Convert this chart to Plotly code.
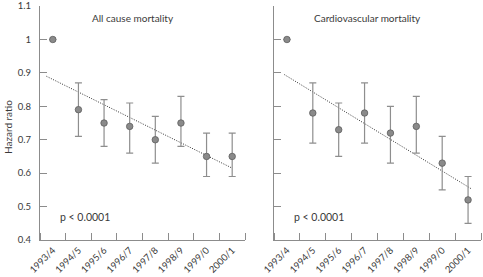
import plotly.graph_objects as go

periods = ["1993/4", "1994/5", "1995/6", "1996/7", "1997/8", "1998/9", "1999/0", "2000/1"]

# All cause mortality
all_hr = [1.00, 0.79, 0.75, 0.74, 0.70, 0.75, 0.65, 0.65]
all_lo = [None, 0.71, 0.68, 0.66, 0.63, 0.68, 0.59, 0.59]
all_hi = [None, 0.87, 0.82, 0.81, 0.77, 0.83, 0.72, 0.72]
all_trend_x = [-0.25, 7.0]
all_trend_y = [0.89, 0.615]

# Cardiovascular mortality
cv_hr = [1.00, 0.78, 0.73, 0.78, 0.72, 0.74, 0.63, 0.52]
cv_lo = [None, 0.69, 0.65, 0.69, 0.63, 0.66, 0.55, 0.45]
cv_hi = [None, 0.87, 0.81, 0.87, 0.80, 0.83, 0.71, 0.59]
cv_trend_x = [-0.1, 7.15]
cv_trend_y = [0.895, 0.552]

y_ticks = [0.4, 0.5, 0.6, 0.7, 0.8, 0.9, 1.0, 1.1]
y_tick_text = ["0.4", "0.5", "0.6", "0.7", "0.8", "0.9", "1", "1.1"]

FONT = "Lato"
TXT = "#3a3a3a"
AX = "#8c8c8c"

xi = list(range(len(periods)))


def errs(hr, lo, hi):
    plus = [0 if h is None else round(h - v, 4) for v, h in zip(hr, hi)]
    minus = [0 if l is None else round(v - l, 4) for v, l in zip(hr, lo)]
    return plus, minus


fig = go.Figure()
for hr, lo, hi, tx, ty, xa, ya in [
    (all_hr, all_lo, all_hi, all_trend_x, all_trend_y, "x", "y"),
    (cv_hr, cv_lo, cv_hi, cv_trend_x, cv_trend_y, "x2", "y2"),
]:
    plus, minus = errs(hr, lo, hi)
    fig.add_trace(go.Scatter(
        x=tx, y=ty, mode="lines", xaxis=xa, yaxis=ya,
        line=dict(color="#333333", width=1, dash="1px,1.5px"), showlegend=False))
    fig.add_trace(go.Scatter(
        x=xi, y=hr, mode="markers", xaxis=xa, yaxis=ya,
        marker=dict(size=6.5, color="#8a8a8a", line=dict(color="#5e5e5e", width=0.8)),
        error_y=dict(type="data", symmetric=False, array=plus, arrayminus=minus,
                     color="#8e8e8e", thickness=1.2, width=3.5),
        showlegend=False))

W, H = 483, 277
xdoms = [[40 / W, 245 / W], [274 / W, 481 / W]]
ydom = [1 - 240 / H, 1 - 6 / H]

common_x = dict(
    range=[-0.5, 7.5], tickmode="array", tickvals=xi, ticktext=periods,
    tickangle=-45, ticks="", showgrid=False, zeroline=False, automargin=False,
    showline=True, linecolor=AX, linewidth=1, ticklabeloverflow="allow",
    tickfont=dict(family=FONT, size=9.5, color=TXT),
    minor=dict(tickmode="linear", tick0=0.5, dtick=1, ticks="inside",
               ticklen=7, tickcolor=AX, tickwidth=1, showgrid=False),
)
common_y = dict(
    range=[0.4, 1.1002], domain=ydom, tickmode="array", tickvals=y_ticks,
    ticks="inside", ticklen=7, tickcolor=AX, tickwidth=1, automargin=False,
    showgrid=False, zeroline=False, showline=True, linecolor=AX, linewidth=1,
    ticklabeloverflow="allow",
    tickfont=dict(family=FONT, size=9.5, color=TXT),
)

fig.update_layout(
    width=W, height=H, margin=dict(l=0, r=0, t=0, b=0, autoexpand=False),
    paper_bgcolor="white", plot_bgcolor="white",
    xaxis=dict(domain=xdoms[0], anchor="y", **common_x),
    xaxis2=dict(domain=xdoms[1], anchor="y2", **common_x),
    yaxis=dict(anchor="x", ticktext=y_tick_text, showticklabels=True,
               ticklabelstandoff=6, **common_y),
    yaxis2=dict(anchor="x2", showticklabels=False, **common_y),
    annotations=[
        dict(text="All cause mortality", x=133 / W, y=1 - 18 / H, xref="paper", yref="paper",
             xanchor="center", yanchor="middle",
             showarrow=False, font=dict(family=FONT, size=10, color=TXT)),
        dict(text="Cardiovascular mortality", x=367 / W, y=1 - 18 / H, xref="paper", yref="paper",
             xanchor="center", yanchor="middle",
             showarrow=False, font=dict(family=FONT, size=10, color=TXT)),
        dict(text="p < 0.0001", x=58 / W, y=1 - 217 / H, xref="paper", yref="paper",
             xanchor="left", yanchor="middle",
             showarrow=False, font=dict(family=FONT, size=10.5, color=TXT)),
        dict(text="p < 0.0001", x=292 / W, y=1 - 217 / H, xref="paper", yref="paper",
             xanchor="left", yanchor="middle",
             showarrow=False, font=dict(family=FONT, size=10.5, color=TXT)),
        dict(text="Hazard ratio", x=8 / W, y=1 - 127 / H, xref="paper", yref="paper",
             xanchor="center", yanchor="middle",
             textangle=-90, showarrow=False, font=dict(family=FONT, size=10, color=TXT)),
    ],
)

fig.write_html("out.html", config={"displayModeBar": False},
               post_script="document.body.style.margin='0';document.body.style.overflow='hidden';")
